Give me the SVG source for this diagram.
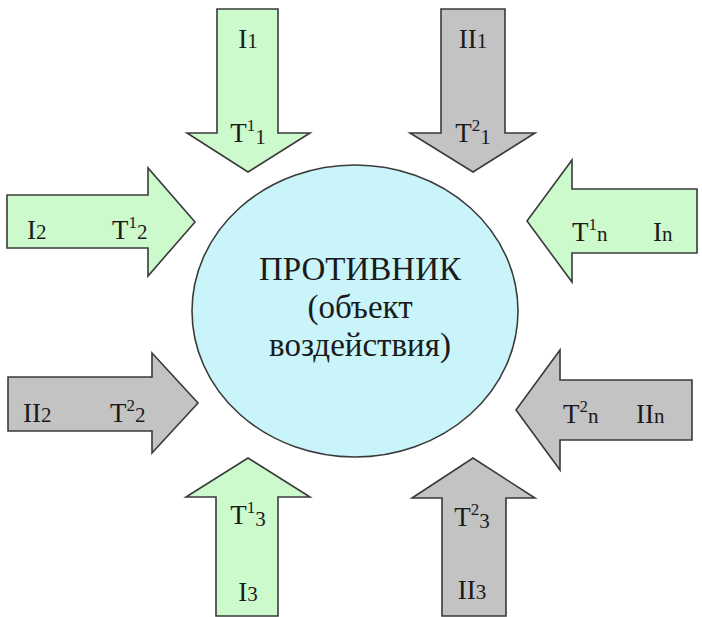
<svg xmlns="http://www.w3.org/2000/svg" width="702" height="617" viewBox="0 0 702 617">
<style>
text{font-family:'Liberation Serif','DejaVu Serif','Times New Roman',serif}
.g{fill:#ccfacc;stroke:#3a3a3a;stroke-width:1.6;stroke-linejoin:miter}
.r{fill:#c3c3c3;stroke:#3a3a3a;stroke-width:1.6;stroke-linejoin:miter}
.t{font-size:27px;fill:#1a1a1a}
.sup{font-size:17px}
.sub{font-size:21px}
.c{font-size:33px;fill:#1a1a1a;text-anchor:middle}
</style>
<rect width="702" height="617" fill="#ffffff"/>
<g id="target">
<ellipse cx="355" cy="311" rx="163" ry="146" fill="#c8f4fa" stroke="#3a3a3a" stroke-width="1.6"/>
<text class="c" x="360" y="280">ПРОТИВНИК</text>
<text class="c" x="360" y="318">(объект</text>
<text class="c" x="360" y="356">воздействия)</text>
</g>
<g id="connectors"></g>
<g id="arrow-I1">
<path class="g" d="M217,9 H278 V133 H310 L248,172 L187,133 H217 Z"/>
<text class="t" x="248" y="48" text-anchor="middle">I<tspan class="sub">1</tspan></text>
<text class="t" x="248" y="142" text-anchor="middle">T<tspan class="sup" dy="-11">1</tspan><tspan class="sub" dy="13">1</tspan></text>
</g>
<g id="arrow-II1">
<path class="r" d="M441,9 H505 V133 H535 L473,172 L410,133 H441 Z"/>
<text class="t" x="473" y="48" text-anchor="middle">II<tspan class="sub">1</tspan></text>
<text class="t" x="473" y="142" text-anchor="middle">T<tspan class="sup" dy="-11">2</tspan><tspan class="sub" dy="13">1</tspan></text>
</g>
<g id="arrow-I2">
<path class="g" d="M7,195 H148 V168 L195,222 L148,276 V248 H7 Z"/>
<text class="t" x="27" y="239">I<tspan class="sub">2</tspan></text>
<text class="t" x="112" y="239">T<tspan class="sup" dy="-11">1</tspan><tspan class="sub" dy="11">2</tspan></text>
</g>
<g id="arrow-In">
<path class="g" d="M697,189 H572 V160 L527,221 L572,282 V253 H697 Z"/>
<text class="t" x="572" y="241">T<tspan class="sup" dy="-11">1</tspan><tspan class="sub" dy="11">n</tspan></text>
<text class="t" x="653" y="241">I<tspan class="sub">n</tspan></text>
</g>
<g id="arrow-II2">
<path class="r" d="M8,377 H152 V353 L198,403 L152,453 V431 H8 Z"/>
<text class="t" x="23" y="422">II<tspan class="sub">2</tspan></text>
<text class="t" x="110" y="422">T<tspan class="sup" dy="-11">2</tspan><tspan class="sub" dy="11">2</tspan></text>
</g>
<g id="arrow-IIn">
<path class="r" d="M692,380 H560 V350 L516,410 L560,470 V440 H692 Z"/>
<text class="t" x="563" y="423">T<tspan class="sup" dy="-11">2</tspan><tspan class="sub" dy="11">n</tspan></text>
<text class="t" x="636" y="423">II<tspan class="sub">n</tspan></text>
</g>
<g id="arrow-I3">
<path class="g" d="M216,616 V497 H186 L248,458 L310,497 H278 V616 Z"/>
<text class="t" x="248" y="524" text-anchor="middle">T<tspan class="sup" dy="-11">1</tspan><tspan class="sub" dy="13">3</tspan></text>
<text class="t" x="248" y="601" text-anchor="middle">I<tspan class="sub">3</tspan></text>
</g>
<g id="arrow-II3">
<path class="r" d="M442,616 V498 H412 L473,458 L535,498 H506 V616 Z"/>
<text class="t" x="472" y="526" text-anchor="middle">T<tspan class="sup" dy="-11">2</tspan><tspan class="sub" dy="13">3</tspan></text>
<text class="t" x="472" y="599" text-anchor="middle">II<tspan class="sub">3</tspan></text>
</g>
</svg>
